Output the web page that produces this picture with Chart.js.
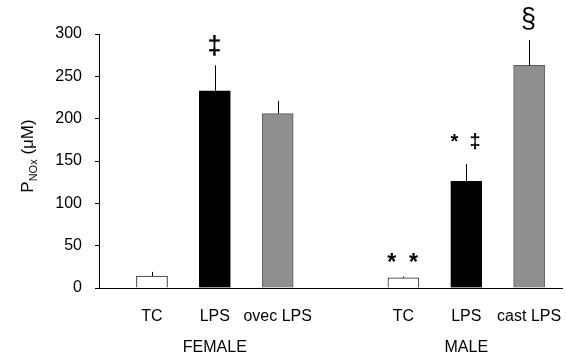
<!DOCTYPE html>
<html>
<head>
<meta charset="utf-8">
<script src="https://cdn.jsdelivr.net/npm/chart.js@4"></script>
<style>
html,body{margin:0;padding:0;background:#fff;}
#wrap{width:566px;height:358px;position:relative;}
</style>
</head>
<body>
<div id="wrap"><canvas id="c" width="566" height="358"></canvas></div>
<script>
// ---- data ----
const categories = ['TC', 'LPS', 'ovec LPS', '', 'TC', 'LPS', 'cast LPS'];
const groups = ['FEMALE', 'MALE'];
const groupCenters = [1, 5];
const values = [14, 233, 206, 12, 126, 263];
const errors = [5, 30, 15, 1.5, 20.5, 30];
const marks = ['', '\u2021', '', '*  *', '*  \u2021', '\u00a7'];
const yTicks = [0, 50, 100, 150, 200, 250, 300];

// bars sit on the non-empty category slots
const barSlots = categories.map((c, i) => c ? i : -1).filter(i => i >= 0);

const FONT = "'Liberation Sans', Arial, sans-serif";
const fills = ['#ffffff', '#000000', '#8f8f8f', '#ffffff', '#000000', '#8f8f8f'];
const borders = ['#222222', '#000000', '#5a5a5a', '#222222', '#000000', '#5a5a5a'];
// style of significance marks: font weight, size and gap above error bar (px)
const markStyle = [
  { w: 'bold', size: 0, gap: 0 }, { w: 'bold', size: 25, gap: 11 }, { w: 'bold', size: 0, gap: 0 },
  { w: 'bold', size: 23, gap: 7 }, { w: 'bold', size: 20, gap: 16 }, { w: 'normal', size: 27, gap: 13 }
];

const overlay = {
  id: 'overlay',
  afterDatasetsDraw(chart) {
    const { ctx, scales: { x, y } } = chart;
    ctx.save();
    values.forEach((v, i) => {
      const px = Math.round(x.getPixelForValue(barSlots[i])) + 0.5;
      const top = y.getPixelForValue(v);
      const et = y.getPixelForValue(v + errors[i]);
      ctx.strokeStyle = '#000';
      ctx.lineWidth = 1;
      ctx.beginPath();
      ctx.moveTo(px, top);
      ctx.lineTo(px, et);
      ctx.stroke();
      if (marks[i]) {
        const ms = markStyle[i];
        ctx.fillStyle = '#000';
        ctx.font = ms.w + ' ' + ms.size + 'px ' + FONT;
        ctx.textAlign = 'center';
        ctx.textBaseline = 'alphabetic';
        ctx.fillText(marks[i], px - 1, et - ms.gap);
      }
    });
    // group labels
    ctx.fillStyle = '#000';
    ctx.font = '16px ' + FONT;
    ctx.textAlign = 'center';
    ctx.textBaseline = 'middle';
    groups.forEach((g, i) => {
      ctx.fillText(g, x.getPixelForValue(groupCenters[i]), 348);
    });
    // y title with subscript
    ctx.translate(27, 156);
    ctx.rotate(-Math.PI / 2);
    ctx.textAlign = 'left';
    ctx.textBaseline = 'alphabetic';
    const big = '17px ' + FONT, small = '11px ' + FONT;
    ctx.font = big; const w1 = ctx.measureText('P').width;
    ctx.font = small; const w2 = ctx.measureText('NOx').width;
    ctx.font = big; const w3 = ctx.measureText(' (\u03bcM)').width;
    let sx = -(w1 + w2 + w3) / 2;
    ctx.font = big; ctx.fillText('P', sx, 6); sx += w1;
    ctx.font = small; ctx.fillText('NOx', sx, 10); sx += w2;
    ctx.font = big; ctx.fillText(' (\u03bcM)', sx, 6);
    ctx.restore();
  }
};

new Chart(document.getElementById('c'), {
  type: 'bar',
  data: {
    datasets: [{
      data: values.map((v, i) => ({ x: barSlots[i], y: v })),
      backgroundColor: fills,
      borderColor: borders,
      borderWidth: 1,
      borderSkipped: 'start',
      barThickness: 31
    }]
  },
  options: {
    responsive: false,
    animation: false,
    events: [],
    layout: { padding: { left: 0, right: 4, top: 34, bottom: 0 } },
    plugins: { legend: { display: false }, tooltip: { enabled: false } },
    scales: {
      x: {
        type: 'linear',
        offset: false,
        min: -0.843,
        max: 6.523,
        afterBuildTicks(scale) { scale.ticks = barSlots.map(v => ({ value: v })); },
        afterFit(scale) { scale.height = 70; scale.paddingLeft = 0; scale.paddingRight = 0; },
        ticks: {
          autoSkip: false,
          maxRotation: 0,
          padding: 11,
          color: '#000',
          font: { family: FONT, size: 16 },
          callback: (v) => categories[v]
        },
        grid: { display: false },
        border: { display: true, color: '#000', width: 1 }
      },
      y: {
        min: 0,
        max: 300,
        afterBuildTicks(scale) { scale.ticks = yTicks.map(v => ({ value: v })); },
        afterFit(scale) { scale.width = 99; scale.paddingTop = 0; scale.paddingBottom = 0; },
        ticks: {
          padding: 13,
          color: '#000',
          font: { family: FONT, size: 16 }
        },
        grid: { drawOnChartArea: false, drawTicks: true, tickLength: 4, color: '#000' },
        border: { display: true, color: '#000', width: 1 }
      }
    }
  },
  plugins: [overlay]
});
</script>
</body>
</html>
